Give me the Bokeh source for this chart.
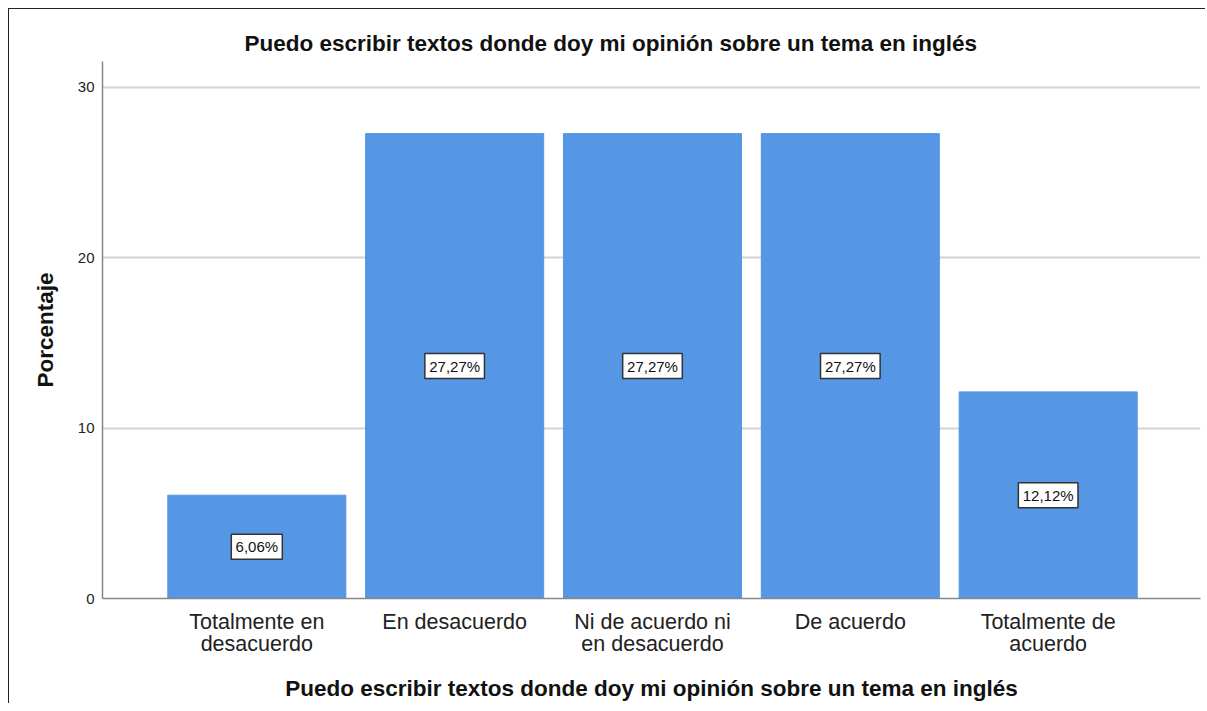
from bokeh.plotting import figure
from bokeh.models import Range1d, FixedTicker, ColumnDataSource, Title
from bokeh.core.properties import value
from bokeh.embed import file_html
from bokeh.resources import INLINE

categories = ["Totalmente en\ndesacuerdo", "En desacuerdo", "Ni de acuerdo ni\nen desacuerdo",
              "De acuerdo", "Totalmente de\nacuerdo"]
values = [6.06, 27.27, 27.27, 27.27, 12.12]
labels = ["6,06%", "27,27%", "27,27%", "27,27%", "12,12%"]
y_ticks = [0, 10, 20, 30]
title_text = "Puedo escribir textos donde doy mi opinión sobre un tema en inglés"
y_title = "Porcentaje"

FONT = "Liberation Sans"
xs = list(range(len(categories)))

p = figure(width=1197, height=695, output_backend="svg", toolbar_location=None,
           x_range=Range1d(-0.78, 4.77), y_range=Range1d(0, 31.5),
           min_border_left=93, min_border_right=6, min_border_top=52, min_border_bottom=106)
p.styles = {"margin-left": "8px", "margin-top": "8px",
            "border-top": "1px solid #222", "border-left": "1px solid #222"}
p.outline_line_color = None
p.background_fill_color = "white"
p.border_fill_color = "white"

t = Title(text=title_text, align="left", offset=142, text_font=FONT, text_font_size="22.5px",
          text_font_style="bold", text_color="#111", standoff=12)
p.add_layout(t, "above")

src = ColumnDataSource(dict(x=xs, top=values, mid=[v / 2 for v in values], lab=labels,
                            bw=[len(s) * 8.6 + 8 for s in labels]))
p.vbar(x="x", top="top", width=0.9, bottom=0, source=src, fill_color="#5596e5",
       line_color="#5596e5", line_width=1)

p.rect(x="x", y="mid", width="bw", height=25, width_units="screen", height_units="screen",
       source=src, fill_color="white", line_color="#333", line_width=1.5)
p.text(x="x", y="mid", text="lab", source=src, text_align="center", text_baseline="middle",
       text_font=value(FONT), text_font_size="15px", text_color="#111")

# axes
p.xaxis.ticker = FixedTicker(ticks=xs)
p.xaxis.major_label_overrides = {i: c for i, c in enumerate(categories)}
p.xaxis.major_label_text_font = FONT
p.xaxis.major_label_text_font_size = "21.5px"
p.xaxis.major_label_text_color = "#222"
p.xaxis.major_label_text_line_height = 0.92
p.xaxis.major_label_standoff = 11
p.xaxis.major_tick_out = 0
p.xaxis.major_tick_in = 0
p.xaxis.minor_tick_out = 0
p.xaxis.minor_tick_in = 0
p.xaxis.axis_line_color = "#888"
p.xaxis.axis_line_width = 1.5
p.xaxis.axis_label = title_text
p.xaxis.axis_label_text_font = FONT
p.xaxis.axis_label_text_font_size = "22.5px"
p.xaxis.axis_label_text_font_style = "bold"
p.xaxis.axis_label_text_color = "#111"
p.xaxis.axis_label_standoff = 17

p.yaxis.ticker = FixedTicker(ticks=y_ticks)
p.yaxis.major_label_text_font = FONT
p.yaxis.major_label_text_font_size = "15px"
p.yaxis.major_label_text_color = "#222"
p.yaxis.major_label_standoff = 8
p.yaxis.major_tick_out = 0
p.yaxis.major_tick_in = 0
p.yaxis.minor_tick_out = 0
p.yaxis.minor_tick_in = 0
p.yaxis.axis_line_color = "#888"
p.yaxis.axis_line_width = 1.5
p.yaxis.axis_label = y_title
p.yaxis.axis_label_text_font = FONT
p.yaxis.axis_label_text_font_size = "22.5px"
p.yaxis.axis_label_text_font_style = "bold"
p.yaxis.axis_label_text_color = "#111"
p.yaxis.axis_label_standoff = 17

p.xgrid.grid_line_color = None
p.ygrid.grid_line_color = "#d4d4d4"
p.ygrid.grid_line_width = 2

open("out.html", "w").write(file_html(p, INLINE))
